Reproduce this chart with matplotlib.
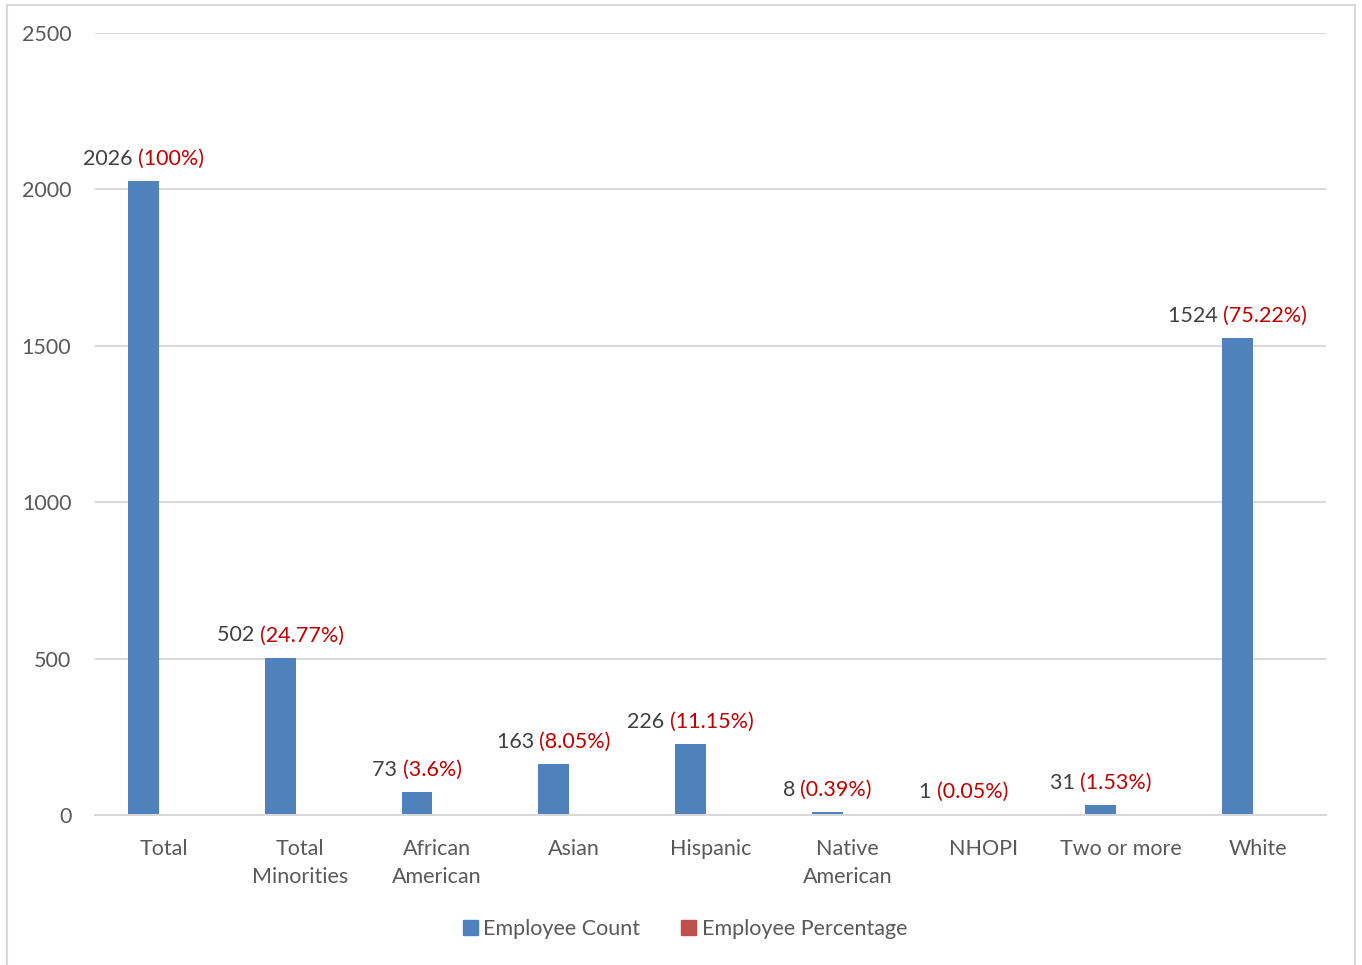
import matplotlib
matplotlib.use("Agg")
import matplotlib.pyplot as plt
import matplotlib.patches as patches
from matplotlib.offsetbox import TextArea, HPacker, AnnotationBbox
import numpy as np

plt.rcParams['font.family'] = ['Lato', 'DejaVu Sans']

# Workforce by race / ethnicity
categories = ["Total", "Total\nMinorities", "African\nAmerican", "Asian", "Hispanic",
              "Native\nAmerican", "NHOPI", "Two or more", "White"]
employee_count = [2026, 502, 73, 163, 226, 8, 1, 31, 1524]
employee_pct = [100, 24.77, 3.6, 8.05, 11.15, 0.39, 0.05, 1.53, 75.22]

BLUE = '#4F81BD'
RED_BAR = '#C0504D'
RED_TXT = '#C00000'
DARK_TXT = '#404040'
AXIS_TXT = '#595959'
GRID = '#D9D9D9'
FS = 15.5

fig = plt.figure(figsize=(13.62, 9.65), dpi=100)
ax = fig.add_axes([95 / 1362, 1 - 815 / 965, (1326 - 95) / 1362, (815 - 33) / 965])

x = np.arange(len(categories))
w = 0.226
off = 0.146
ax.bar(x - off, employee_count, width=w, color=BLUE, zorder=2, label='Employee Count')
# percentages plotted as fractions on the same scale, so they barely show
ax.bar(x + off, np.array(employee_pct) / 100, width=w, color=RED_BAR, zorder=2,
       label='Employee Percentage')

ax.set_xlim(-0.5, len(categories) - 0.5)
ax.set_ylim(0, 2500)
ax.set_yticks(range(0, 2501, 500))
ax.yaxis.grid(True, color=GRID, linewidth=1.5, zorder=0)
ax.set_axisbelow(True)
for side in ['top', 'right', 'left']:
    ax.spines[side].set_visible(False)
ax.spines['bottom'].set_color(GRID)
ax.spines['bottom'].set_linewidth(1.5)

ax.set_xticks(x)
ax.set_xticklabels(categories, fontsize=FS, color=AXIS_TXT, linespacing=1.55)
ax.tick_params(axis='x', length=0, pad=17)
ax.tick_params(axis='y', length=0, pad=17, labelsize=FS, labelcolor=AXIS_TXT)

# two-colour value labels: count in grey, share in red
for xi, cnt, pct in zip(x, employee_count, employee_pct):
    t1 = TextArea(f"{cnt} ", textprops=dict(color=DARK_TXT, fontsize=FS))
    t2 = TextArea(f"({pct:g}%)", textprops=dict(color=RED_TXT, fontsize=FS))
    box = HPacker(children=[t1, t2], align='baseline', pad=0, sep=0)
    ab = AnnotationBbox(box, (xi - off, cnt), xybox=(0, 9), xycoords='data',
                        boxcoords='offset points', box_alignment=(0.5, 0),
                        frameon=False, pad=0, annotation_clip=False)
    ax.add_artist(ab)

handles = [patches.Patch(color=BLUE, label='Employee Count'),
           patches.Patch(color=RED_BAR, label='Employee Percentage')]
fig.legend(handles=handles, loc='center', bbox_to_anchor=(685 / 1362, 1 - 929 / 965),
           ncol=2, frameon=False, fontsize=FS, handlelength=0.7, handleheight=0.7,
           handletextpad=0.25, columnspacing=1.9, labelcolor=AXIS_TXT)

# chart area border
fig.add_artist(patches.Rectangle((7 / 1362, -0.05), (1355 - 7) / 1362, 1.05 - 4.5 / 965,
                                 transform=fig.transFigure, fill=False,
                                 edgecolor=GRID, linewidth=1.5, clip_on=False))

fig.savefig('out.png', dpi=100, facecolor='white')
